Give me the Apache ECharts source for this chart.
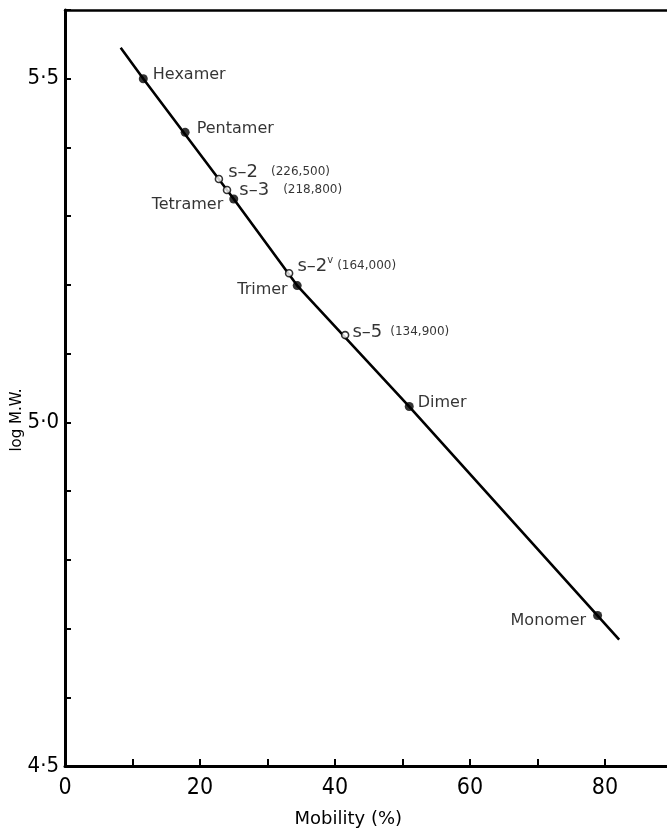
<!DOCTYPE html>
<html>
<head>
<meta charset="utf-8">
<script src="https://cdn.jsdelivr.net/npm/echarts@6/dist/echarts.min.js"></script>
<style>
html,body{margin:0;padding:0;background:#fff;}
#chart{width:667px;height:828px;}
</style>
</head>
<body>
<div id="chart"></div>
<script>
// ---- data ----
const solidNames = ['Hexamer', 'Pentamer', 'Tetramer', 'Trimer', 'Dimer', 'Monomer'];
const solidX = [11.6, 17.8, 25.0, 34.4, 51.0, 78.9];
const solidY = [5.50, 5.422, 5.325, 5.199, 5.023, 4.719];

const openNames = ['s–2', 's–3', 's–2', 's–5'];
const openSup = ['', '', 'v', ''];
const openMW = ['(226,500)', '(218,800)', '(164,000)', '(134,900)'];
const openX = [22.8, 24.0, 33.2, 41.5];
const openY = [5.354, 5.338, 5.217, 5.127];

// calibration curve drawn through the plot
const lineX = [8.25, 11.6, 25.0, 34.4, 51.0, 82.1];
const lineY = [5.545, 5.50, 5.325, 5.199, 5.023, 4.684];

const xTickLabels = ['0', '20', '40', '60', '80'];
const yTickLabels = ['4·5', '5·0', '5·5'];
const yTickValues = [4.5, 5.0, 5.5];

// ---- label placement (style only) ----
const solidLabelCfg = [
  {pos: 'right', dist: 5, dy: -4},
  {pos: 'right', dist: 7, dy: -3},
  {pos: 'left', dist: 6, dy: 6},
  {pos: 'left', dist: 5, dy: 4},
  {pos: 'right', dist: 4, dy: -4},
  {pos: 'left', dist: 7, dy: 5}
];
const openLabelCfg = [
  {dist: 5, dy: -7, gap: 13},
  {dist: 8, dy: 0, gap: 14},
  {dist: 4, dy: -7, gap: 4},
  {dist: 3, dy: -3, gap: 8}
];

const FONT = 'DejaVu Sans';
const TICKFONT = "'DejaVu Sans Condensed', 'Liberation Sans Narrow', 'DejaVu Sans', sans-serif";

const lineData = lineX.map((x, i) => [x, lineY[i]]);
const solidData = solidX.map((x, i) => ({
  value: [x, solidY[i]],
  name: solidNames[i],
  label: {
    show: true,
    position: solidLabelCfg[i].pos,
    distance: solidLabelCfg[i].dist,
    offset: [0, solidLabelCfg[i].dy],
    formatter: solidNames[i],
    color: '#000',
    fontFamily: FONT,
    fontSize: 16
  }
}));
const openData = openX.map((x, i) => {
  const sup = openSup[i] ? '{s|' + openSup[i] + '}' : '';
  return {
    value: [x, openY[i]],
    name: openNames[i],
    label: {
      show: true,
      position: 'right',
      distance: openLabelCfg[i].dist,
      offset: [0, openLabelCfg[i].dy],
      formatter: '{a|' + openNames[i] + '}' + sup + '{g| }{b|' + openMW[i] + '}',
      rich: {
        a: {fontFamily: FONT, fontSize: 18, color: '#000'},
        s: {fontFamily: FONT, fontSize: 10, color: '#000', padding: [0, 0, 12, 0]},
        g: {width: openLabelCfg[i].gap, fontSize: 10},
        b: {fontFamily: FONT, fontSize: 12, color: '#000'}
      }
    }
  };
});

const chart = echarts.init(document.getElementById('chart'), null, {renderer: 'canvas'});
chart.setOption({
  backgroundColor: '#fff',
  animation: false,
  grid: {left: 65, top: 10, width: 607.5, height: 756, containLabel: false, outerBoundsMode: 'none'},
  xAxis: [{
    type: 'value',
    min: 0, max: 90, interval: 10,
    position: 'bottom',
    name: 'Mobility (%)',
    nameLocation: 'middle',
    nameGap: 44,
    nameMoveOverlap: false,
    nameTextStyle: {fontFamily: FONT, fontSize: 18, color: '#000', padding: [0, 41, 0, 0]},
    axisLine: {show: true, onZero: false, lineStyle: {color: '#000', width: 3}},
    axisTick: {show: true, inside: true, length: 7, lineStyle: {color: '#000', width: 2}},
    splitLine: {show: false},
    axisLabel: {
      margin: 11,
      fontFamily: TICKFONT, fontSize: 23, color: '#000',
      formatter: function (v) {
        const k = xTickLabels.indexOf(String(Math.round(v)));
        return (Math.abs(v % 20) < 1e-6 && k >= 0) ? xTickLabels[k] : '';
      }
    }
  }, {
    type: 'value',
    min: 0, max: 90,
    position: 'top',
    axisLine: {show: true, onZero: false, lineStyle: {color: '#000', width: 2.5}},
    axisTick: {show: false},
    axisLabel: {show: false},
    splitLine: {show: false}
  }],
  yAxis: {
    type: 'value',
    min: 4.5, max: 5.6, interval: 0.1,
    name: 'log M.W.',
    nameLocation: 'middle',
    nameGap: 40,
    nameMoveOverlap: false,
    nameTextStyle: {fontFamily: FONT, fontSize: 15, color: '#000', padding: [0, 64, 0, 0]},
    axisLine: {show: true, onZero: false, lineStyle: {color: '#000', width: 3}},
    axisTick: {show: true, inside: true, length: 6, lineStyle: {color: '#000', width: 2}},
    splitLine: {show: false},
    axisLabel: {
      margin: 6,
      fontFamily: TICKFONT, fontSize: 22, color: '#000',
      formatter: function (v) {
        for (let i = 0; i < yTickValues.length; i++) {
          if (Math.abs(v - yTickValues[i]) < 1e-6) return yTickLabels[i];
        }
        return '';
      }
    }
  },
  series: [{
    type: 'line',
    data: lineData,
    symbol: 'none',
    lineStyle: {color: '#000', width: 2.6},
    z: 1
  }, {
    type: 'scatter',
    data: solidData,
    symbol: 'circle',
    symbolSize: 9,
    itemStyle: {color: '#000'},
    z: 3
  }, {
    type: 'scatter',
    data: openData,
    symbol: 'circle',
    symbolSize: 7,
    itemStyle: {color: '#fff', borderColor: '#000', borderWidth: 1.6},
    z: 4
  }]
});
</script>
</body>
</html>
